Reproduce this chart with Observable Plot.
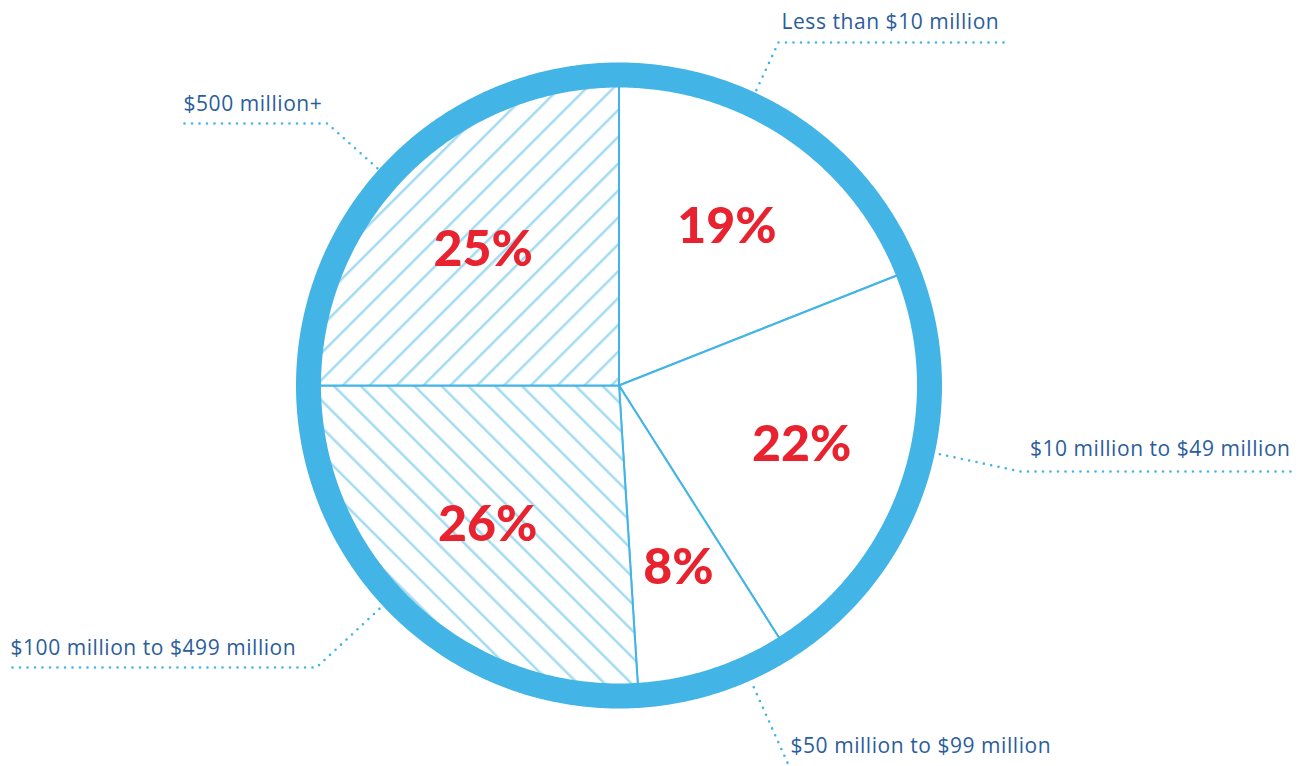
<!DOCTYPE html>
<html>
<head>
<meta charset="utf-8">
<script src="https://cdn.jsdelivr.net/npm/d3@7"></script>
<script src="https://cdn.jsdelivr.net/npm/@observablehq/plot@0.6"></script>
<style>
  html, body { margin: 0; padding: 0; background: #ffffff; }
  #chart { width: 1303px; height: 766px; }
  .cat-label text { letter-spacing: 0.55px; }
</style>
</head>
<body>
<div id="chart"></div>
<script>
// ---- Data ----
const categories = [
  "Less than $10 million",
  "$10 million to $49 million",
  "$50 million to $99 million",
  "$100 million to $499 million",
  "$500 million+"
];
const shares = [19, 22, 8, 26, 25];

// ---- Styles / layout (kept apart from data) ----
const W = 1303, H = 766;
const cx = 618.5, cy = 385;          // pie centre
const R = 310.5;                     // ring centre-line radius
const ringWidth = 25;
const ringOuter = R + ringWidth / 2;
const labelRadius = 192;
const blue = "#42B4E6";
const hatchBlue = "#A3DBF2";
const red = "#E8222E";
const textBlue = "#2B5D9C";
const catFont = 21;
const sliceFill = {
  "Less than $10 million": "white",
  "$10 million to $49 million": "white",
  "$50 million to $99 million": "white",
  "$100 million to $499 million": "url(#hatchBack)",
  "$500 million+": "url(#hatchFwd)"
};
// label text + leader elbow layout (pixels)
const labelLayout = {
  "Less than $10 million":        {tx: 781,  base: 28,  anchor: "start", ly: 42,  elbow: 778,  far: 1003},
  "$10 million to $49 million":   {tx: 1290, base: 455, anchor: "end",   ly: 471, elbow: 1020, far: 1290},
  "$50 million to $99 million":   {tx: 790,  base: 752, anchor: "start", ly: 769, elbow: 790,  far: 1060},
  "$100 million to $499 million": {tx: 10,   base: 654, anchor: "start", ly: 667, elbow: 316,  far: 12},
  "$500 million+":                {tx: 183,  base: 110, anchor: "start", ly: 123, elbow: 327,  far: 184}
};

// ---- Build pie geometry through d3.pie ----
const rows = categories.map((c, i) => ({category: c, share: shares[i]}));
const arcs = d3.pie().sort(null).value(d => d.share).startAngle(0).endAngle(2 * Math.PI)(rows);

const polys = arcs.map(a => {
  const pts = [{x: cx, y: cy}];
  const n = Math.max(2, Math.ceil((a.endAngle - a.startAngle) / (Math.PI / 360)));
  for (let k = 0; k <= n; k++) {
    const t = a.startAngle + (a.endAngle - a.startAngle) * k / n;
    pts.push({x: cx + R * Math.sin(t), y: cy - R * Math.cos(t)});
  }
  pts.push({x: cx, y: cy});
  return {category: a.data.category, pts};
});

const pctLabels = arcs.map(a => {
  const m = (a.startAngle + a.endAngle) / 2;
  return {
    text: a.data.share + "%",
    x: cx + labelRadius * Math.sin(m),
    y: cy - labelRadius * Math.cos(m)
  };
});

const ring = d3.range(0, 721).map(k => {
  const t = k / 720 * 2 * Math.PI;
  return {x: cx + R * Math.sin(t), y: cy - R * Math.cos(t)};
});

const leaders = categories.map(c => {
  const L = labelLayout[c];
  const dx = L.elbow - cx, dy = L.ly - cy;
  const d = Math.hypot(dx, dy);
  const ax = cx + dx / d * (ringOuter + 1), ay = cy + dy / d * (ringOuter + 1);
  return {category: c, pts: [{x: L.far, y: L.ly}, {x: L.elbow, y: L.ly}, {x: ax, y: ay}]};
});

const marks = [];
for (const p of polys) {
  marks.push(Plot.line(p.pts, {x: "x", y: "y", fill: sliceFill[p.category], stroke: blue, strokeWidth: 2, strokeLinejoin: "miter"}));
}
for (const l of leaders) {
  marks.push(Plot.line(l.pts, {x: "x", y: "y", stroke: blue, strokeWidth: 2.6, strokeDasharray: "0 7.5", strokeLinecap: "round"}));
}
marks.push(Plot.line(ring, {x: "x", y: "y", stroke: blue, strokeWidth: ringWidth}));
marks.push(Plot.text(pctLabels, {x: "x", y: "y", text: "text", fill: red, fontSize: 50, fontWeight: 900, fontFamily: "Lato, 'Open Sans', sans-serif", textAnchor: "middle"}));
for (const anchor of ["start", "end"]) {
  marks.push(Plot.text(categories.filter(c => labelLayout[c].anchor === anchor), {
    x: c => labelLayout[c].tx, y: c => labelLayout[c].base - 0.32 * catFont, text: c => c,
    textAnchor: anchor, fill: textBlue, fontSize: catFont, fontWeight: 500,
    fontFamily: "'Open Sans', sans-serif", className: "cat-label"
  }));
}

const chart = Plot.plot({
  width: W, height: H, margin: 0,
  x: {domain: [0, W], range: [0, W], axis: null},
  y: {domain: [0, H], range: [0, H], axis: null},
  style: {background: "white"},
  marks
});

// hatch patterns
const ns = "http://www.w3.org/2000/svg";
const defs = document.createElementNS(ns, "defs");
defs.innerHTML = `
  <pattern id="hatchFwd" patternUnits="userSpaceOnUse" width="19" height="19" patternTransform="rotate(45)">
    <rect width="19" height="19" fill="white"/>
    <line x1="0" y1="0" x2="0" y2="19" stroke="${hatchBlue}" stroke-width="5"/>
  </pattern>
  <pattern id="hatchBack" patternUnits="userSpaceOnUse" width="19" height="19" patternTransform="rotate(-45)">
    <rect width="19" height="19" fill="white"/>
    <line x1="0" y1="0" x2="0" y2="19" stroke="${hatchBlue}" stroke-width="5"/>
  </pattern>`;
chart.insertBefore(defs, chart.firstChild);
document.getElementById("chart").appendChild(chart);
</script>
</body>
</html>
